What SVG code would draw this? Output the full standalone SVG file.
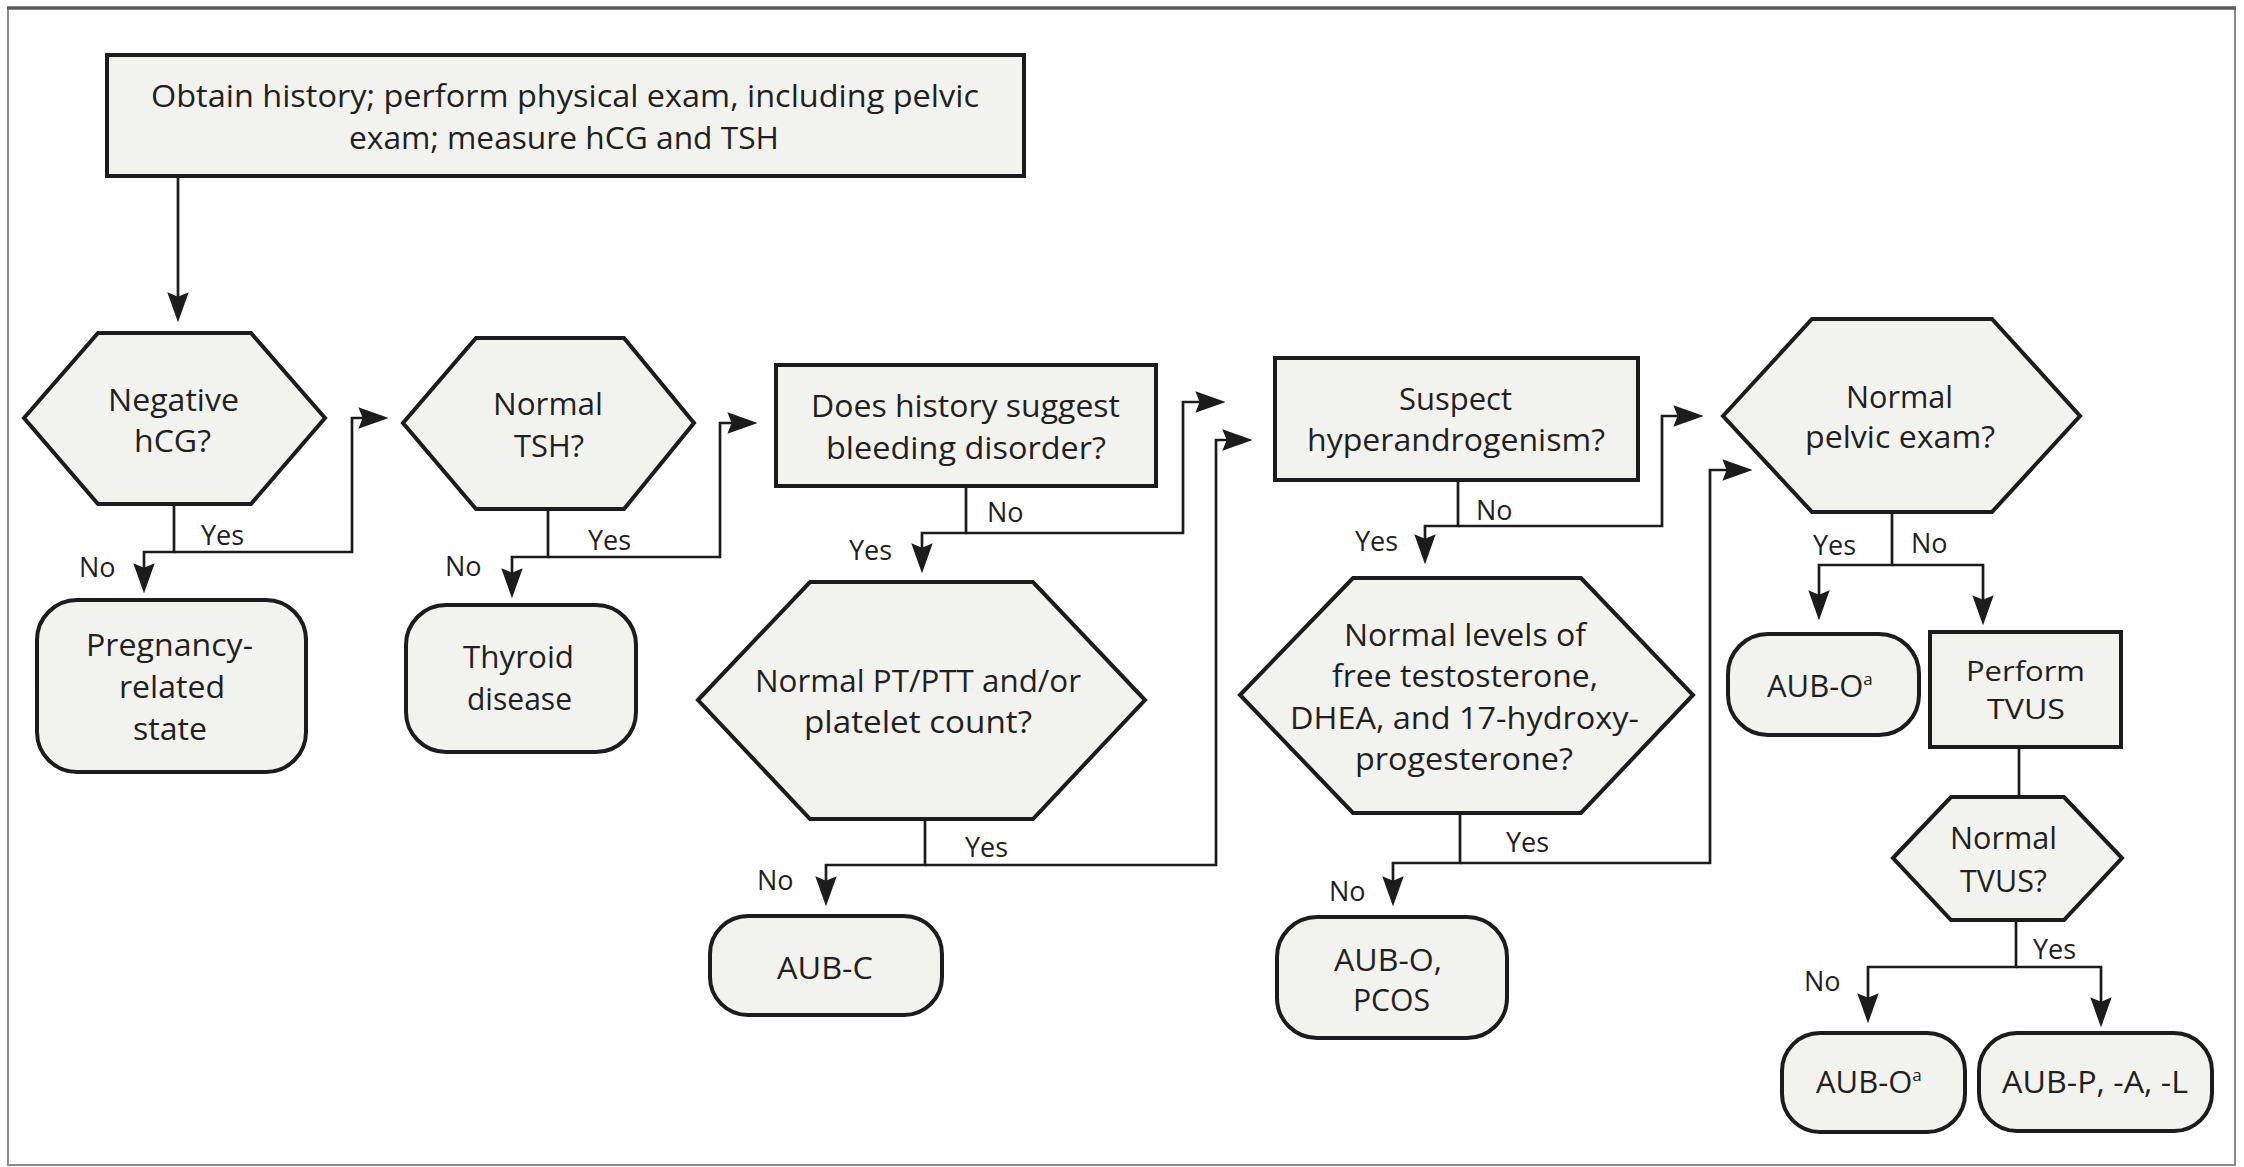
<svg xmlns="http://www.w3.org/2000/svg" width="2244" height="1167" viewBox="0 0 2244 1167">
<style>
.node{fill:#f2f2ef;stroke:#1c1c1c;stroke-width:4;stroke-linejoin:miter}
.t{font-family:"Open Sans","Noto Sans","Liberation Sans",sans-serif;font-size:31px;fill:#231f20;text-anchor:middle}
.lbl{font-family:"Open Sans","Noto Sans","Liberation Sans",sans-serif;font-size:27px;fill:#231f20}
.c{fill:none;stroke:#1c1c1c;stroke-width:2.7}
.a{marker-end:url(#ah)}
</style>
<defs>
<marker id="ah" markerUnits="userSpaceOnUse" markerWidth="30" markerHeight="22" viewBox="0 0 28 20" refX="23" refY="10" orient="auto">
<path d="M0,0 L28,10 L0,20 L4,10 z" fill="#1c1c1c"/>
</marker>
</defs>
<rect x="0" y="0" width="2244" height="1167" fill="#ffffff"/>
<rect x="8" y="8" width="2227" height="1157" fill="none" stroke="#8c8c8c" stroke-width="2"/>
<line x1="7" y1="8" x2="2236" y2="8" stroke="#5a5a5a" stroke-width="3.5"/>

<g id="connectors">
<path class="c a" d="M178,177 V317"/>
<path class="c a" d="M174,504 V552 H144 V588"/>
<path class="c a" d="M174,552 H352 V418 H383"/>
<path class="c a" d="M548,509 V557 H512 V593"/>
<path class="c a" d="M548,557 H720 V423 H752"/>
<path class="c a" d="M966,486 V533 H922 V568"/>
<path class="c a" d="M966,533 H1183 V402 H1220"/>
<path class="c a" d="M925,819 V865 H826 V901"/>
<path class="c a" d="M925,865 H1216 V440 H1247"/>
<path class="c a" d="M1458,480 V526 H1425 V559"/>
<path class="c a" d="M1458,526 H1662 V416 H1698"/>
<path class="c a" d="M1460,813 V863 H1393 V901"/>
<path class="c a" d="M1460,863 H1710 V470 H1747"/>
<path class="c a" d="M1892,512 V565 H1819 V615"/>
<path class="c a" d="M1892,565 H1983 V620"/>
<path class="c" d="M2019,747 V797"/>
<path class="c a" d="M2016,920 V967 H1868 V1018"/>
<path class="c a" d="M2016,967 H2101 V1022"/>
</g>

<g id="labels">
<text class="lbl" x="201" y="545">Yes</text>
<text class="lbl" x="79" y="577">No</text>
<text class="lbl" x="588" y="550">Yes</text>
<text class="lbl" x="445" y="576">No</text>
<text class="lbl" x="987" y="522">No</text>
<text class="lbl" x="849" y="560">Yes</text>
<text class="lbl" x="965" y="857">Yes</text>
<text class="lbl" x="757" y="890">No</text>
<text class="lbl" x="1476" y="520">No</text>
<text class="lbl" x="1355" y="551">Yes</text>
<text class="lbl" x="1506" y="852">Yes</text>
<text class="lbl" x="1329" y="901">No</text>
<text class="lbl" x="1813" y="555">Yes</text>
<text class="lbl" x="1911" y="553">No</text>
<text class="lbl" x="2033" y="959">Yes</text>
<text class="lbl" x="1804" y="991">No</text>
</g>

<g id="start">
<rect class="node" x="107" y="55" width="917" height="121"/>
<text class="t" x="565" y="107" textLength="828" lengthAdjust="spacingAndGlyphs">Obtain history; perform physical exam, including pelvic</text>
<text class="t" x="564" y="149" textLength="430" lengthAdjust="spacingAndGlyphs">exam; measure hCG and TSH</text>
</g>

<g id="hcg">
<polygon class="node" points="24,418 98,333 251,333 325,418 251,504 98,504"/>
<text class="t" x="173.5" y="411" textLength="131" lengthAdjust="spacingAndGlyphs">Negative</text>
<text class="t" x="172.5" y="452" textLength="77" lengthAdjust="spacingAndGlyphs">hCG?</text>
</g>

<g id="pregnancy">
<rect class="node" x="37" y="600" width="269" height="172" rx="40" ry="40"/>
<text class="t" x="169.5" y="656" textLength="167" lengthAdjust="spacingAndGlyphs">Pregnancy-</text>
<text class="t" x="172" y="698" textLength="106" lengthAdjust="spacingAndGlyphs">related</text>
<text class="t" x="170" y="740" textLength="74" lengthAdjust="spacingAndGlyphs">state</text>
</g>

<g id="tsh">
<polygon class="node" points="403,423 476,338 624,338 694,423 624,509 476,509"/>
<text class="t" x="548" y="415" textLength="110" lengthAdjust="spacingAndGlyphs">Normal</text>
<text class="t" x="549" y="457" textLength="70" lengthAdjust="spacingAndGlyphs">TSH?</text>
</g>

<g id="thyroid">
<rect class="node" x="406" y="605" width="230" height="147" rx="40" ry="40"/>
<text class="t" x="518.5" y="668" textLength="111" lengthAdjust="spacingAndGlyphs">Thyroid</text>
<text class="t" x="519.5" y="710" textLength="105" lengthAdjust="spacingAndGlyphs">disease</text>
</g>

<g id="bleeding">
<rect class="node" x="776" y="365" width="380" height="121"/>
<text class="t" x="965.5" y="417" textLength="309" lengthAdjust="spacingAndGlyphs">Does history suggest</text>
<text class="t" x="966" y="459" textLength="280" lengthAdjust="spacingAndGlyphs">bleeding disorder?</text>
</g>

<g id="ptptt">
<polygon class="node" points="698,700 810,582 1033,582 1145,700 1033,819 810,819"/>
<text class="t" x="918" y="692" textLength="326" lengthAdjust="spacingAndGlyphs">Normal PT/PTT and/or</text>
<text class="t" x="918" y="733" textLength="228" lengthAdjust="spacingAndGlyphs">platelet count?</text>
</g>

<g id="aubc">
<rect class="node" x="710" y="916" width="232" height="99" rx="38" ry="38"/>
<text class="t" x="825" y="979" textLength="96" lengthAdjust="spacingAndGlyphs">AUB-C</text>
</g>

<g id="hyperandrogenism">
<rect class="node" x="1275" y="358" width="363" height="122"/>
<text class="t" x="1455.5" y="410" textLength="113" lengthAdjust="spacingAndGlyphs">Suspect</text>
<text class="t" x="1456" y="451" textLength="298" lengthAdjust="spacingAndGlyphs">hyperandrogenism?</text>
</g>

<g id="levels">
<polygon class="node" points="1240,695 1353,578 1581,578 1693,695 1581,813 1353,813"/>
<text class="t" x="1465" y="646" textLength="242" lengthAdjust="spacingAndGlyphs">Normal levels of</text>
<text class="t" x="1465" y="687" textLength="266" lengthAdjust="spacingAndGlyphs">free testosterone,</text>
<text class="t" x="1464.5" y="729" textLength="349" lengthAdjust="spacingAndGlyphs">DHEA, and 17-hydroxy-</text>
<text class="t" x="1464" y="770" textLength="218" lengthAdjust="spacingAndGlyphs">progesterone?</text>
</g>

<g id="pcos">
<rect class="node" x="1277" y="917" width="230" height="121" rx="40" ry="40"/>
<text class="t" x="1388" y="971" textLength="108" lengthAdjust="spacingAndGlyphs">AUB-O,</text>
<text class="t" x="1391.5" y="1011" textLength="77" lengthAdjust="spacingAndGlyphs">PCOS</text>
</g>

<g id="pelvic">
<polygon class="node" points="1723,416 1812,319 1992,319 2080,416 1992,512 1812,512"/>
<text class="t" x="1899.5" y="408" textLength="107" lengthAdjust="spacingAndGlyphs">Normal</text>
<text class="t" x="1900" y="448" textLength="190" lengthAdjust="spacingAndGlyphs">pelvic exam?</text>
</g>

<g id="aubo1">
<rect class="node" x="1728" y="634" width="191" height="101" rx="40" ry="40"/>
<text class="t" x="1767" y="697" style="text-anchor:start">AUB-O<tspan font-size="17" dy="-12">a</tspan></text>
</g>

<g id="tvus">
<rect class="node" x="1930" y="632" width="191" height="115"/>
<text class="t" x="2025.5" y="681" font-size="28" style="font-size:28px" textLength="119" lengthAdjust="spacingAndGlyphs">Perform</text>
<text class="t" x="2026" y="719" font-size="28" style="font-size:28px" textLength="78" lengthAdjust="spacingAndGlyphs">TVUS</text>
</g>

<g id="normaltvus">
<polygon class="node" points="1893,858 1951,797 2064,797 2122,858 2064,920 1951,920"/>
<text class="t" x="2003.5" y="849" textLength="107" lengthAdjust="spacingAndGlyphs">Normal</text>
<text class="t" x="2003.5" y="892" textLength="87" lengthAdjust="spacingAndGlyphs">TVUS?</text>
</g>

<g id="aubo2">
<rect class="node" x="1782" y="1033" width="183" height="99" rx="38" ry="38"/>
<text class="t" x="1816" y="1093" style="text-anchor:start">AUB-O<tspan font-size="17" dy="-12">a</tspan></text>
</g>

<g id="aubpal">
<rect class="node" x="1979" y="1033" width="233" height="98" rx="38" ry="38"/>
<text class="t" x="2095" y="1093" textLength="186" lengthAdjust="spacingAndGlyphs">AUB-P, -A, -L</text>
</g>
</svg>
